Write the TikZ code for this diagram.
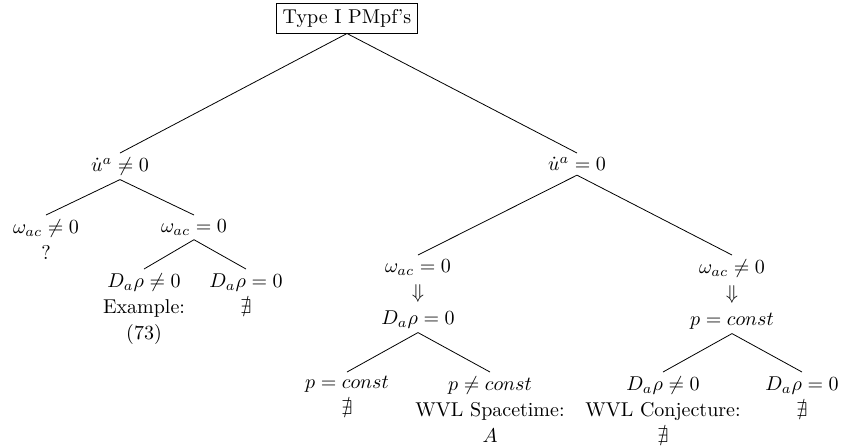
\documentclass[tikz,border=0pt]{standalone}
\usepackage{amssymb}
\usetikzlibrary{positioning}

\begin{document}
\begin{tikzpicture}[x=0.5pt, y=-0.5pt,
    leaf/.style={align=center, anchor=north, inner sep=2pt,
      font=\fontsize{10}{13}\selectfont},
    branch/.style={thin}]
  \useasboundingbox (0,0) rectangle (841,447);

  % root
  \node[draw, thin, inner sep=3pt] (root) at (347,18) {Type I PMpf's};

  % first level
  \node[leaf] (acc) at (120,153) {$\dot u^a\neq0$};
  \node[leaf] (noacc) at (577,153) {$\dot u^a=0$};

  % accelerated branch
  \node[leaf] (accrot) at (46,215) {$\omega_{ac}\neq0$\\?};
  \node[leaf] (accirr) at (194,215) {$\omega_{ac}=0$};
  \node[leaf] (accgrad) at (144,269) {$D_a\rho\neq0$\\Example:\\(73)};
  \node[leaf] (acchom) at (246,269) {$D_a\rho=0$\\$\nexists$};

  % geodesic branch
  \node[leaf] (geoirr) at (418,255) {$\omega_{ac}=0$\\$\Downarrow$\\$D_a\rho=0$};
  \node[leaf] (georot) at (732,255) {$\omega_{ac}\neq0$\\$\Downarrow$\\$p=const$};
  \node[leaf] (irrconst) at (347,372) {$p=const$\\$\nexists$};
  \node[leaf] (irrvar) at (490,372) {$p\neq const$\\WVL Spacetime:\\$A$};
  \node[leaf] (rotgrad) at (663,372) {$D_a\rho\neq0$\\WVL Conjecture:\\$\nexists$};
  \node[leaf] (rothom) at (802,372) {$D_a\rho=0$\\$\nexists$};

  \draw[branch] (root.south) -- (acc.north);
  \draw[branch] (root.south) -- (noacc.north);
  \draw[branch] (acc.south) -- (accrot.north);
  \draw[branch] (acc.south) -- (accirr.north);
  \draw[branch] (accirr.south) -- (accgrad.north);
  \draw[branch] (accirr.south) -- (acchom.north);
  \draw[branch] (noacc.south) -- (geoirr.north);
  \draw[branch] (noacc.south) -- (georot.north);
  \draw[branch] (geoirr.south) -- (irrconst.north);
  \draw[branch] (geoirr.south) -- (irrvar.north);
  \draw[branch] (georot.south) -- (rotgrad.north);
  \draw[branch] (georot.south) -- (rothom.north);
\end{tikzpicture}
\end{document}
